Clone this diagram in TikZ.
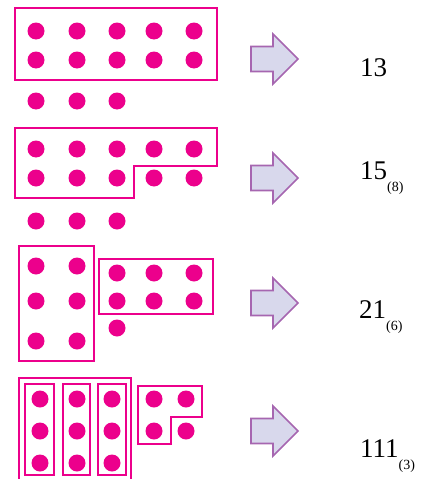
\documentclass[tikz,border=0pt]{standalone}
\usepackage{fontspec}
\setmainfont{Liberation Serif}
\definecolor{mag}{RGB}{236,0,140}
\definecolor{arrfill}{RGB}{216,216,236}
\definecolor{arrdraw}{RGB}{166,102,176}
\newcommand\basesub[1]{\raisebox{-12pt}{\fontsize{14}{14}\selectfont #1}}
\begin{document}
\begin{tikzpicture}[x=1pt,y=-1pt,
  dot/.style={fill=mag},
  frame/.style={draw=mag,line width=2pt,line join=miter},
  bigarrow/.style={fill=arrfill,draw=arrdraw,line width=1.6pt,line join=miter},
  num/.style={anchor=base west,inner sep=0pt,font=\fontsize{27}{30}\selectfont}]
\useasboundingbox (0,0) rectangle (427,479);
\begin{scope}
\clip (0,0) rectangle (427,479);
% group 1
\draw[frame] (15,8) rectangle (217,80);
\foreach \x in {36,77,117,154,194} \foreach \y in {31,60} \fill[dot] (\x,\y) circle (8.5pt);
\foreach \x in {36,77,117} \fill[dot] (\x,101) circle (8.5pt);
% group 2
\draw[frame] (15,128) -- (217,128) -- (217,166) -- (134,166) -- (134,198) -- (15,198) -- cycle;
\foreach \x in {36,77,117,154,194} \foreach \y in {149,178} \fill[dot] (\x,\y) circle (8.5pt);
\foreach \x in {36,77,117} \fill[dot] (\x,221) circle (8.5pt);
% group 3
\draw[frame] (19,246) rectangle (94,361);
\foreach \x in {36,77} \foreach \y in {266,301,341} \fill[dot] (\x,\y) circle (8.5pt);
\draw[frame] (99,259) rectangle (213,314);
\foreach \x in {117,154,194} \foreach \y in {273,301} \fill[dot] (\x,\y) circle (8.5pt);
\fill[dot] (117,328) circle (8.5pt);
% group 4
\draw[frame] (19,482) -- (19,378) -- (131,378) -- (131,482);
\draw[frame] (25,384) rectangle (54,475);
\draw[frame] (63,384) rectangle (90,475);
\draw[frame] (98,384) rectangle (126,475);
\foreach \x in {40,77,112} \foreach \y in {399,431,463} \fill[dot] (\x,\y) circle (8.5pt);
\draw[frame] (138,386) -- (202,386) -- (202,417) -- (171,417) -- (171,444) -- (138,444) -- cycle;
\foreach \x in {154,186} \foreach \y in {399,431} \fill[dot] (\x,\y) circle (8.5pt);
\end{scope}
% arrows
\foreach \c in {59,178,303,431}
  \draw[bigarrow] (251,\c-12.5) -- (273,\c-12.5) -- (273,\c-25) -- (298,\c) -- (273,\c+25) -- (273,\c+12.5) -- (251,\c+12.5) -- cycle;
% numbers
\node[num] (t1) at (360,76) {13};
\node[num] (t2) at (360,179) {15\basesub{(8)}};
\node[num] (t3) at (359,318) {21\basesub{(6)}};
\node[num] (t4) at (360,457) {111\basesub{(3)}};
\end{tikzpicture}
\end{document}
